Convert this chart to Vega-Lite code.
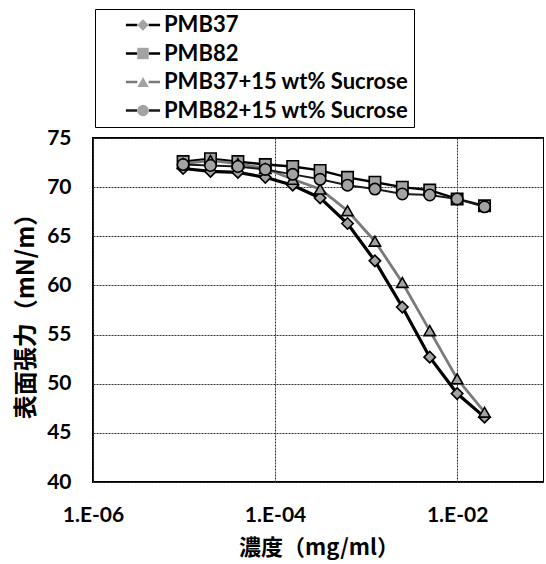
{
  "$schema": "https://vega.github.io/schema/vega-lite/v6.json",
  "width": 451,
  "height": 344,
  "padding": {"left": 14, "top": 8, "right": 0, "bottom": 5},
  "background": "white",
  "config": {
    "font": "Lato, Noto Sans CJK JP",
    "view": {"stroke": "black", "strokeWidth": 2},
    "axis": {
      "labelFont": "Lato, Noto Sans CJK JP",
      "labelFontWeight": "bold",
      "labelFontSize": 21,
      "labelColor": "black",
      "labelFlush": false,
      "titleFont": "Noto Sans CJK JP",
      "titleFontWeight": "bold",
      "titleFontSize": 22,
      "titleColor": "black",
      "ticks": false,
      "domain": false,
      "gridColor": "#333",
      "gridDash": [2, 1],
      "gridWidth": 1,
      "gridOpacity": 1
    }
  },
  "data": {
    "values": [
      {"c": 9.765625e-6, "s": 71.9, "series": "PMB37"},
      {"c": 1.953125e-5, "s": 71.6, "series": "PMB37"},
      {"c": 3.90625e-5, "s": 71.5, "series": "PMB37"},
      {"c": 7.8125e-5, "s": 71.0, "series": "PMB37"},
      {"c": 1.5625e-4, "s": 70.2, "series": "PMB37"},
      {"c": 3.125e-4, "s": 68.9, "series": "PMB37"},
      {"c": 6.25e-4, "s": 66.3, "series": "PMB37"},
      {"c": 1.25e-3, "s": 62.5, "series": "PMB37"},
      {"c": 2.5e-3, "s": 57.8, "series": "PMB37"},
      {"c": 5e-3, "s": 52.7, "series": "PMB37"},
      {"c": 1e-2, "s": 49.0, "series": "PMB37"},
      {"c": 2e-2, "s": 46.6, "series": "PMB37"},
      {"c": 9.765625e-6, "s": 72.6, "series": "PMB82"},
      {"c": 1.953125e-5, "s": 72.9, "series": "PMB82"},
      {"c": 3.90625e-5, "s": 72.6, "series": "PMB82"},
      {"c": 7.8125e-5, "s": 72.3, "series": "PMB82"},
      {"c": 1.5625e-4, "s": 72.1, "series": "PMB82"},
      {"c": 3.125e-4, "s": 71.7, "series": "PMB82"},
      {"c": 6.25e-4, "s": 71.0, "series": "PMB82"},
      {"c": 1.25e-3, "s": 70.5, "series": "PMB82"},
      {"c": 2.5e-3, "s": 70.0, "series": "PMB82"},
      {"c": 5e-3, "s": 69.7, "series": "PMB82"},
      {"c": 1e-2, "s": 68.8, "series": "PMB82"},
      {"c": 2e-2, "s": 68.1, "series": "PMB82"},
      {"c": 9.765625e-6, "s": 72.4, "series": "PMB37+15 wt% Sucrose"},
      {"c": 1.953125e-5, "s": 72.7, "series": "PMB37+15 wt% Sucrose"},
      {"c": 3.90625e-5, "s": 72.4, "series": "PMB37+15 wt% Sucrose"},
      {"c": 7.8125e-5, "s": 71.9, "series": "PMB37+15 wt% Sucrose"},
      {"c": 1.5625e-4, "s": 70.8, "series": "PMB37+15 wt% Sucrose"},
      {"c": 3.125e-4, "s": 69.8, "series": "PMB37+15 wt% Sucrose"},
      {"c": 6.25e-4, "s": 67.6, "series": "PMB37+15 wt% Sucrose"},
      {"c": 1.25e-3, "s": 64.5, "series": "PMB37+15 wt% Sucrose"},
      {"c": 2.5e-3, "s": 60.3, "series": "PMB37+15 wt% Sucrose"},
      {"c": 5e-3, "s": 55.4, "series": "PMB37+15 wt% Sucrose"},
      {"c": 1e-2, "s": 50.5, "series": "PMB37+15 wt% Sucrose"},
      {"c": 2e-2, "s": 47.1, "series": "PMB37+15 wt% Sucrose"},
      {"c": 9.765625e-6, "s": 72.3, "series": "PMB82+15 wt% Sucrose"},
      {"c": 1.953125e-5, "s": 72.2, "series": "PMB82+15 wt% Sucrose"},
      {"c": 3.90625e-5, "s": 72.1, "series": "PMB82+15 wt% Sucrose"},
      {"c": 7.8125e-5, "s": 71.8, "series": "PMB82+15 wt% Sucrose"},
      {"c": 1.5625e-4, "s": 71.3, "series": "PMB82+15 wt% Sucrose"},
      {"c": 3.125e-4, "s": 70.8, "series": "PMB82+15 wt% Sucrose"},
      {"c": 6.25e-4, "s": 70.2, "series": "PMB82+15 wt% Sucrose"},
      {"c": 1.25e-3, "s": 69.8, "series": "PMB82+15 wt% Sucrose"},
      {"c": 2.5e-3, "s": 69.3, "series": "PMB82+15 wt% Sucrose"},
      {"c": 5e-3, "s": 69.2, "series": "PMB82+15 wt% Sucrose"},
      {"c": 1e-2, "s": 68.8, "series": "PMB82+15 wt% Sucrose"},
      {"c": 2e-2, "s": 68.0, "series": "PMB82+15 wt% Sucrose"}
    ]
  },
  "encoding": {
    "x": {
      "field": "c",
      "type": "quantitative",
      "scale": {"type": "log", "domain": [1e-6, 0.09], "nice": false},
      "axis": {
        "values": [1e-6, 1e-4, 1e-2],
        "labelExpr": "'1.E-0' + format(-round(log(datum.value)/LN10), 'd')",
        "labelPadding": 22,
        "title": "濃度（mg/ml）",
        "titlePadding": 12
      }
    },
    "y": {
      "field": "s",
      "type": "quantitative",
      "scale": {"domain": [40, 75], "nice": false, "zero": false},
      "axis": {
        "values": [40, 45, 50, 55, 60, 65, 70, 75],
        "labelPadding": 22,
        "title": "表面張力（mN/m）",
        "titleFontSize": 24,
        "titlePadding": 8
      }
    }
  },
  "layer": [
    {
      "mark": {"type": "line"},
      "encoding": {
        "detail": {"field": "series"},
        "stroke": {
          "field": "series",
          "type": "nominal",
          "sort": ["PMB37", "PMB82", "PMB37+15 wt% Sucrose", "PMB82+15 wt% Sucrose"],
          "scale": {"range": ["#000000", "#000000", "#7a7a7a", "#1a1a1a"]},
          "legend": {
            "orient": "none",
            "legendX": 2,
            "legendY": -129,
            "title": null,
            "labelFont": "Lato",
            "labelFontSize": 22,
            "labelFontWeight": "bold",
            "labelOpacity": 0,
            "labelLimit": 0,
            "labelOffset": 10,
            "symbolType": "M-3,0L-1,0M1,0L3,0",
            "symbolSize": 130,
            "symbolOffset": 32,
            "symbolStrokeWidth": 2.6,
            "rowPadding": 6.5,
            "padding": 5,
            "strokeColor": "black",
            "fillColor": "white"
          }
        },
        "strokeWidth": {
          "field": "series",
          "type": "nominal",
          "scale": {"range": [3.2, 2, 3.2, 2.6]},
          "legend": null
        }
      }
    },
    {
      "mark": {"type": "point", "filled": false, "fill": "#a3a3a3", "stroke": "#000", "strokeWidth": 1.6, "size": 130, "opacity": 1, "fillOpacity": 1},
      "encoding": {
        "shape": {
          "field": "series",
          "type": "nominal",
          "scale": {
            "domain": ["PMB37", "PMB82", "PMB37+15 wt% Sucrose", "PMB82+15 wt% Sucrose"],
            "range": ["diamond", "square", "triangle-up", "circle"]
          },
          "legend": {
            "orient": "none",
            "legendX": 2,
            "legendY": -129,
            "title": null,
            "labelFont": "Lato",
            "labelFontSize": 22,
            "labelFontWeight": "bold",
            "labelColor": "black",
            "labelLimit": 0,
            "labelOffset": 10,
            "symbolSize": 130,
            "symbolOffset": 32,
            "symbolFillColor": "#a3a3a3",
            "symbolStrokeColor": "black",
            "symbolStrokeWidth": 1.6,
            "symbolOpacity": 1,
            "rowPadding": 6.5,
            "padding": 5
          }
        }
      }
    }
  ]
}
